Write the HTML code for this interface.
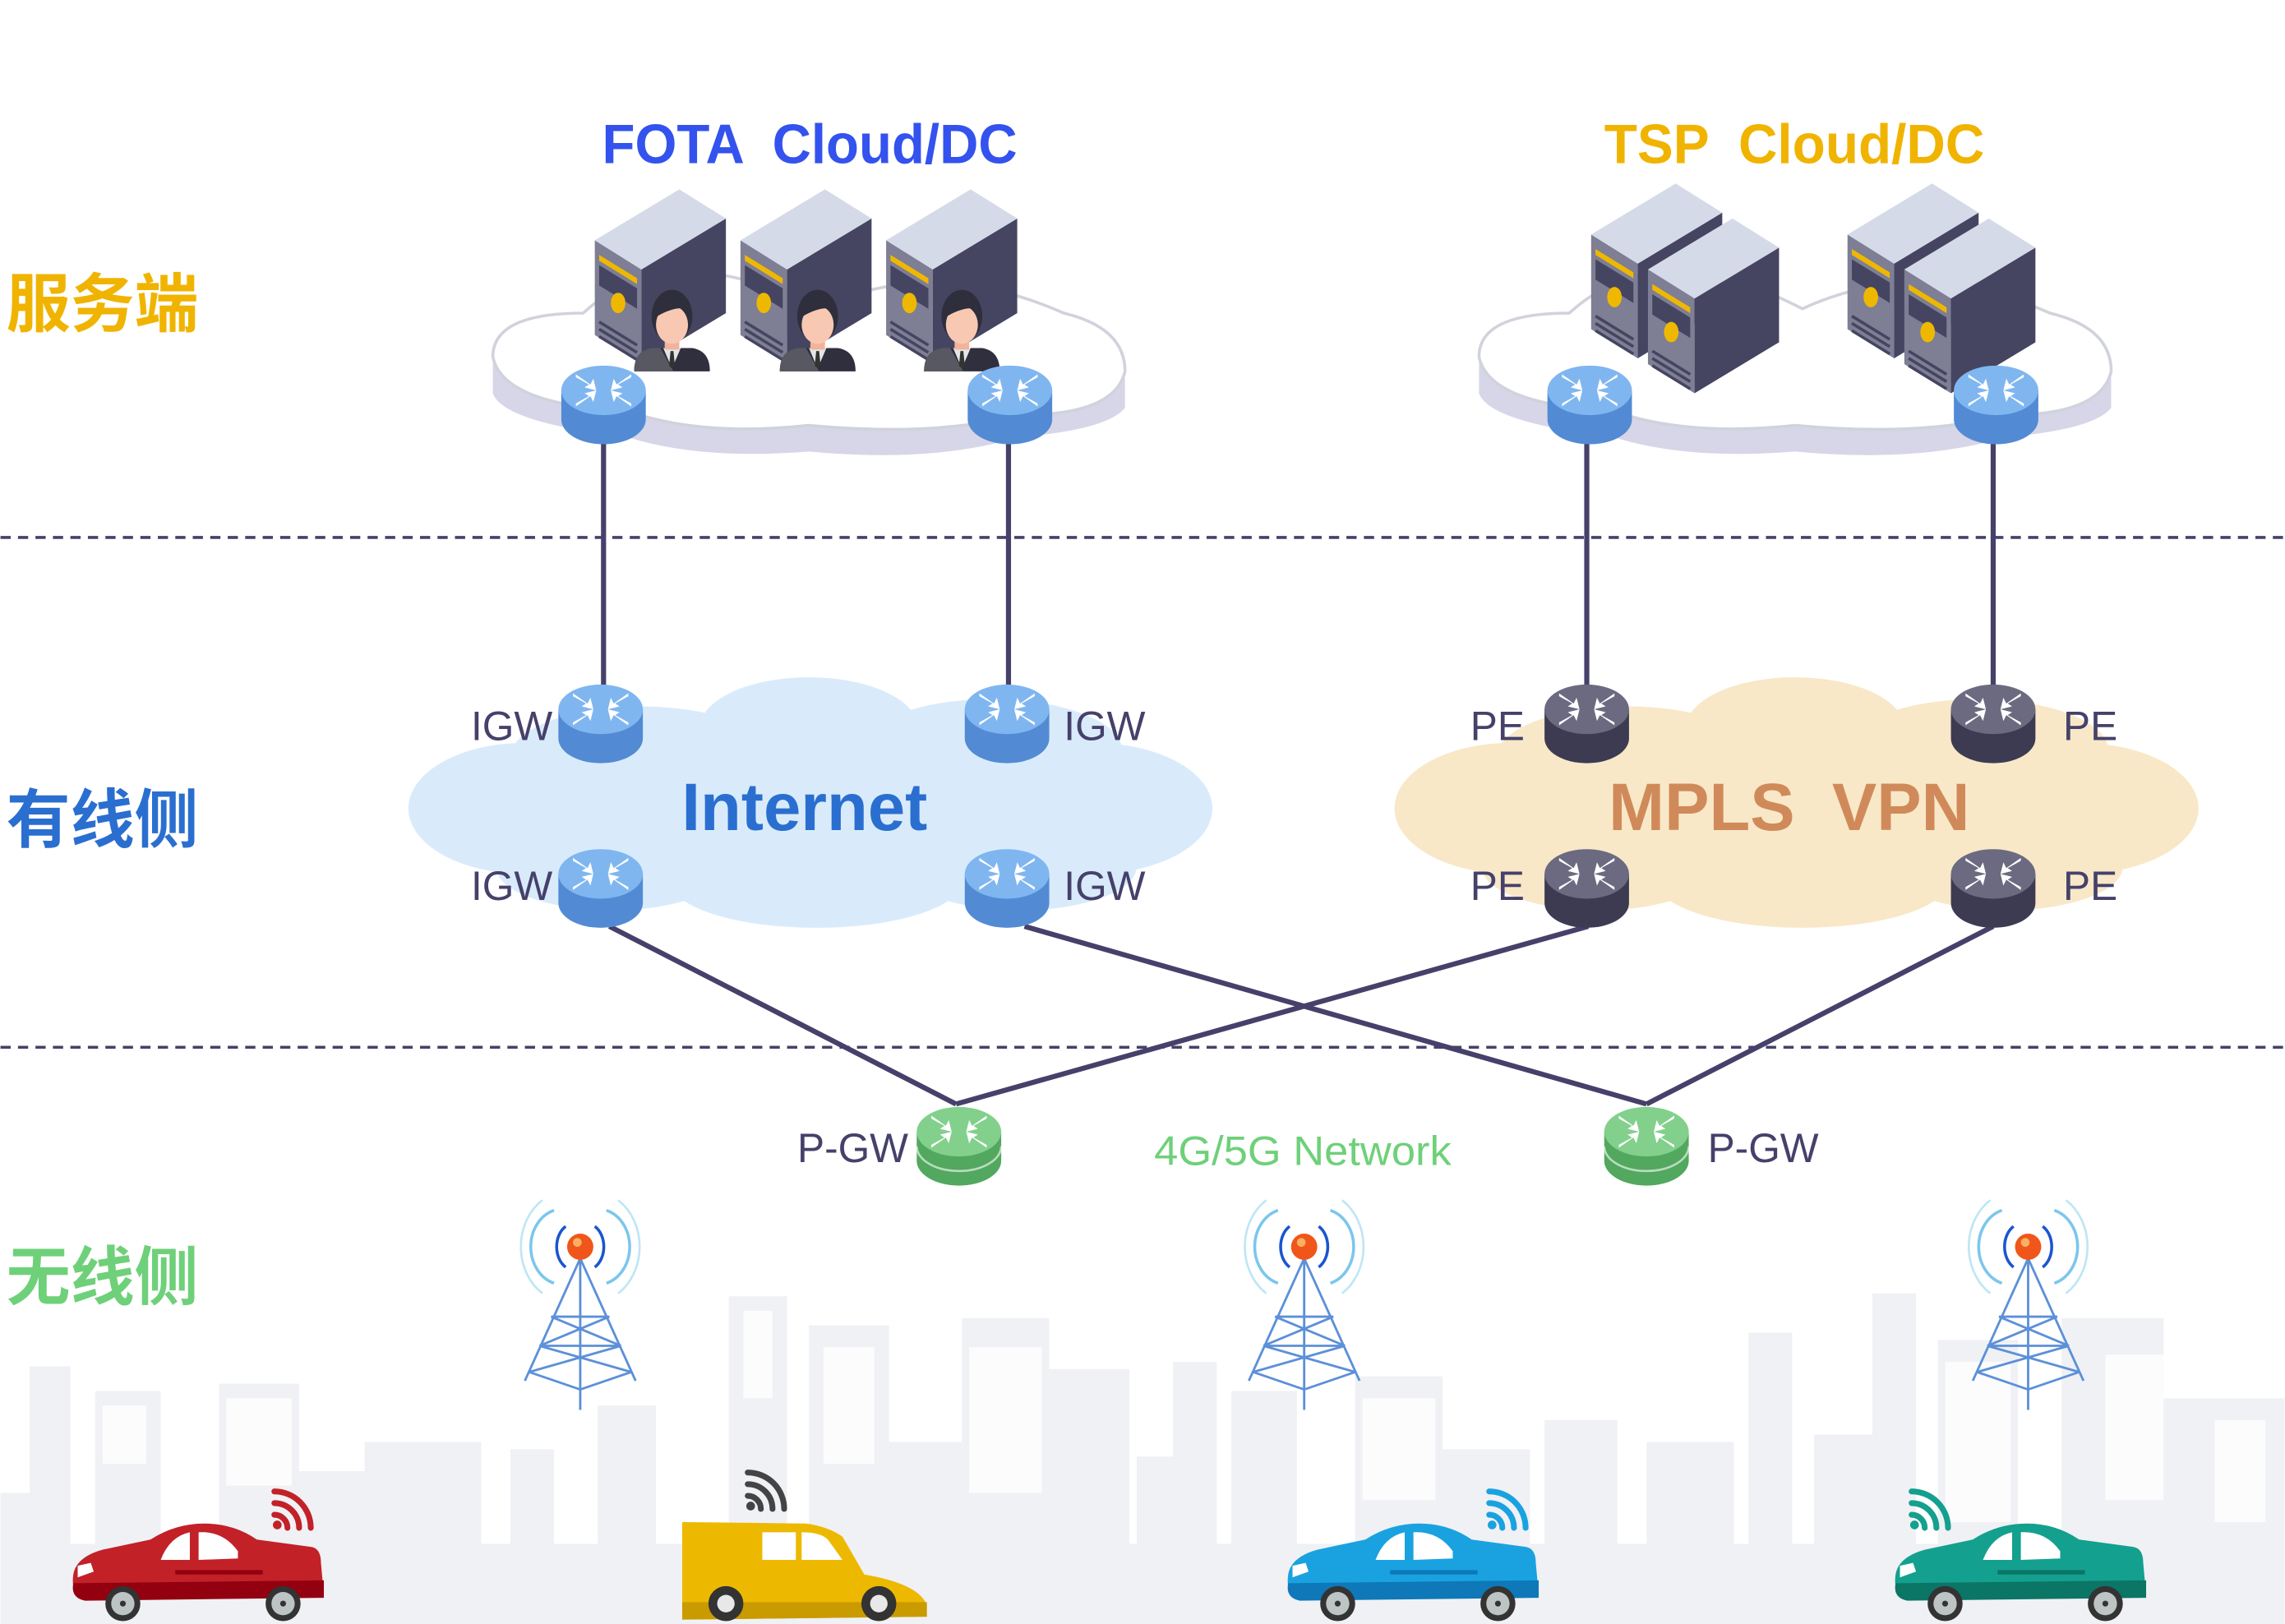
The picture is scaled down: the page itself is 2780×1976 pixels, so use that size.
<!DOCTYPE html>
<html><head><meta charset="utf-8"><style>
html,body{margin:0;padding:0;background:#fff;}
svg{display:block}
text{font-family:"Liberation Sans","Noto Sans CJK SC",sans-serif;}
</style></head><body>
<svg width="2780" height="1976" viewBox="0 0 1568 1115" xmlns="http://www.w3.org/2000/svg">
<defs>
<g id="arrows" fill="#fff">
  <path d="M-19,-11 L-9,-4 L-7,-8 L-5,0 L-13,-2 L-10,-4 L-19,-9Z"/>
  <path d="M19,-11 L9,-4 L7,-8 L5,0 L13,-2 L10,-4 L19,-9Z"/>
  <path d="M-19,11 L-9,4 L-7,8 L-5,0 L-13,2 L-10,4 L-19,9Z"/>
  <path d="M19,11 L9,4 L7,8 L5,0 L13,2 L10,4 L19,9Z"/>
</g>
<g id="rb"><path d="M-29,0 V20 A29,17 0 0 0 29,20 V0Z" fill="#528bd4"/><ellipse rx="29" ry="17" fill="#80b6f0"/><use href="#arrows"/></g>
<g id="rd"><path d="M-29,0 V20 A29,17 0 0 0 29,20 V0Z" fill="#3c3b52"/><ellipse rx="29" ry="17" fill="#6b6a80"/><use href="#arrows"/></g>
<g id="rg"><path d="M-29,0 V20 A29,17 0 0 0 29,20 V0Z" fill="#52a85e"/><ellipse rx="29" ry="17" fill="#82d08c"/><use href="#arrows"/><path d="M-29,10 A29,17 0 0 0 29,10" fill="none" stroke="#fff" stroke-width="1.5" opacity=".6"/></g>
<g id="srv">
  <path d="M0,37 L32,57 L32,122 L0,102Z" fill="#7e7e94"/>
  <path d="M32,57 L90,22 L90,87 L32,122Z" fill="#454562"/>
  <path d="M0,37 L58,2 L90,22 L32,57Z" fill="#d5dae8"/>
  <path d="M3,47 L29,63 L29,67 L3,51Z" fill="#efb800"/>
  <path d="M3,54 L29,70 L29,84 L3,68Z" fill="#454562"/>
  <ellipse cx="16" cy="80" rx="5" ry="7" fill="#efb800"/>
  <path d="M3,93 L29,109 M3,98 L29,114 M3,103 L29,119" stroke="#454562" stroke-width="2"/>
</g>
<g id="person">
  <path d="M0,62 Q0,48 12,46 L40,46 Q52,48 52,62Z" fill="#2f2f3d"/>
  <path d="M0,62 Q0,48 12,46 L18,46 L27,62Z" fill="#585862"/>
  <path d="M20,46 L26,60 L32,46Z" fill="#e5e5e5"/>
  <path d="M25,48 L27,48 L28,58 L26,60 L24,58Z" fill="#333"/>
  <rect x="21" y="36" width="10" height="11" fill="#f2b39c"/>
  <ellipse cx="26" cy="24" rx="14" ry="18" fill="#2e2e3c"/>
  <ellipse cx="26" cy="30" rx="11" ry="13" fill="#f8c8b2"/>
  <path d="M14,20 Q26,8 38,20 Q30,16 16,24Z" fill="#2e2e3c"/>
</g>
<g id="tower" fill="none">
  <path d="M-18,-25 A22,26 0 0 0 -18,25 M18,-25 A22,26 0 0 1 18,25" stroke="#5ab8e8" stroke-width="2" opacity=".8"/>
  <path d="M-10,-14 A12,16 0 0 0 -10,14 M10,-14 A12,16 0 0 1 10,14" stroke="#1a55d0" stroke-width="2"/>
  <path d="M-26,-32 A32,38 0 0 0 -26,32 M26,-32 A32,38 0 0 1 26,32" stroke="#bfe6f5" stroke-width="1.5"/>
  <path d="M0,8 L-38,92 M0,8 L38,92 M0,8 V112 M-20,48 L20,48 M-28,68 L28,68 M-35,86 L0,98 L35,86 M-20,48 L28,68 M20,48 L-28,68 M-28,68 L35,86 M28,68 L-35,86" stroke="#5c90d8" stroke-width="1.6"/>
  <circle cx="0" cy="0" r="9" fill="#f0561a"/><circle cx="-2" cy="-3" r="3" fill="#f9b060"/>
</g>
<g id="car">
  <path d="M2,36 Q4,24 22,19 L55,12 Q72,1 92,1 Q112,1 128,12 L165,17 Q172,18 172,28 L174,50 L10,52 Q0,50 2,36Z" fill="var(--c)"/>
  <path d="M2,42 L174,40 L174,52 L10,54 Q0,52 2,42Z" fill="var(--d)"/>
  <path d="M62,26 Q68,10 82,7 L82,26Z M88,7 Q105,6 115,20 L115,25 L88,26Z" fill="#fff"/>
  <rect x="72" y="33" width="60" height="3" fill="var(--d)"/>
  <path d="M5,30 L14,28 L16,34 L5,38Z" fill="#fff"/>
  <circle cx="36" cy="56" r="12" fill="#333"/><circle cx="36" cy="56" r="8" fill="#bcc4c4"/><circle cx="36" cy="56" r="2" fill="#333"/>
  <circle cx="146" cy="56" r="12" fill="#333"/><circle cx="146" cy="56" r="8" fill="#bcc4c4"/><circle cx="146" cy="56" r="2" fill="#333"/>
</g>
<g id="wifi">
  <g fill="none" stroke="var(--w)" stroke-width="4" stroke-linecap="round">
    <path d="M2,22 A9,9 0 0 1 11,31 M2,14 A17,17 0 0 1 19,31 M2,6 A25,25 0 0 1 27,31"/>
  </g>
  <circle cx="4" cy="29" r="3" fill="var(--w)"/>
</g>
</defs>

<!-- skyline -->
<g fill="#f0f1f5">
  <rect x="20" y="938" width="28" height="177"/><rect x="65" y="955" width="45" height="160"/><rect x="150" y="950" width="55" height="165"/>
  <rect x="0" y="1025" width="40" height="90"/><rect x="200" y="1010" width="50" height="105"/><rect x="250" y="990" width="80" height="125"/>
  <rect x="350" y="995" width="30" height="120"/><rect x="410" y="965" width="40" height="150"/><rect x="500" y="890" width="40" height="225"/>
  <rect x="555" y="910" width="55" height="205"/><rect x="600" y="990" width="60" height="125"/><rect x="660" y="905" width="60" height="210"/>
  <rect x="720" y="940" width="55" height="175"/><rect x="780" y="1000" width="40" height="115"/><rect x="805" y="935" width="30" height="180"/>
  <rect x="845" y="955" width="45" height="160"/><rect x="930" y="945" width="60" height="170"/><rect x="990" y="995" width="60" height="120"/>
  <rect x="1060" y="975" width="50" height="140"/><rect x="1130" y="990" width="60" height="125"/><rect x="1200" y="915" width="30" height="200"/>
  <rect x="1245" y="985" width="40" height="130"/><rect x="1285" y="888" width="30" height="227"/><rect x="1330" y="920" width="55" height="195"/>
  <rect x="1415" y="905" width="70" height="210"/><rect x="1485" y="960" width="83" height="155"/>
  <rect x="0" y="1060" width="1568" height="55"/>
</g>
<g fill="#fff" opacity=".8">
  <rect x="70" y="965" width="30" height="40"/><rect x="155" y="960" width="45" height="60"/><rect x="510" y="900" width="20" height="60"/>
  <rect x="565" y="925" width="35" height="80"/><rect x="665" y="925" width="50" height="100"/><rect x="935" y="960" width="50" height="70"/>
  <rect x="1335" y="935" width="45" height="110"/><rect x="1445" y="930" width="40" height="100"/><rect x="1520" y="975" width="35" height="70"/>
</g>

<!-- dashed separators -->
<g stroke="#45416a" stroke-width="2" stroke-dasharray="7,5">
  <line x1="0" y1="369" x2="1568" y2="369"/><line x1="0" y1="719" x2="1568" y2="719"/>
</g>

<!-- top clouds -->
<g>
  <path d="M338,250 Q338,218 400,218 Q460,160 560,215 Q640,180 730,220 Q772,228 772,262 L772,280 Q760,295 700,300 Q640,318 555,310 Q480,316 430,300 Q345,290 338,270Z" fill="#d6d6e8"/>
  <path d="M338,245 Q338,215 400,215 Q460,160 560,212 Q640,175 730,215 Q772,225 772,255 Q765,285 700,285 Q640,300 555,292 Q480,300 430,282 Q345,278 338,245Z" fill="#fff" stroke="#d0d2dc" stroke-width="2"/>
  <path d="M1015,250 Q1015,218 1077,218 Q1137,160 1237,215 Q1317,180 1407,220 Q1449,228 1449,262 L1449,280 Q1437,295 1377,300 Q1317,318 1232,310 Q1157,316 1107,300 Q1022,290 1015,270Z" fill="#d6d6e8"/>
  <path d="M1015,245 Q1015,215 1077,215 Q1137,160 1237,212 Q1317,175 1407,215 Q1449,225 1449,255 Q1442,285 1377,285 Q1317,300 1232,292 Q1157,300 1107,282 Q1022,278 1015,245Z" fill="#fff" stroke="#d0d2dc" stroke-width="2"/>
</g>
<!-- servers -->
<use href="#srv" x="408" y="128"/><use href="#srv" x="508" y="128"/><use href="#srv" x="608" y="128"/>
<use href="#person" x="435" y="193"/><use href="#person" x="535" y="193"/><use href="#person" x="634" y="193"/>
<use href="#srv" x="1092" y="124"/><use href="#srv" x="1131" y="148"/>
<use href="#srv" x="1268" y="124"/><use href="#srv" x="1307" y="148"/>

<!-- middle clouds -->
<g fill="#d9ebfb">
  <ellipse cx="555" cy="560" rx="270" ry="55"/><ellipse cx="360" cy="555" rx="80" ry="45"/><ellipse cx="750" cy="555" rx="82" ry="45"/>
  <ellipse cx="555" cy="500" rx="75" ry="35"/><ellipse cx="440" cy="520" rx="90" ry="35"/><ellipse cx="680" cy="515" rx="90" ry="35"/>
  <ellipse cx="560" cy="605" rx="100" ry="32"/><ellipse cx="420" cy="595" rx="80" ry="30"/><ellipse cx="700" cy="595" rx="80" ry="30"/>
</g>
<g fill="#f8e8c8">
  <ellipse cx="1232" cy="560" rx="270" ry="55"/><ellipse cx="1037" cy="555" rx="80" ry="45"/><ellipse cx="1427" cy="555" rx="82" ry="45"/>
  <ellipse cx="1232" cy="500" rx="75" ry="35"/><ellipse cx="1117" cy="520" rx="90" ry="35"/><ellipse cx="1357" cy="515" rx="90" ry="35"/>
  <ellipse cx="1237" cy="605" rx="100" ry="32"/><ellipse cx="1097" cy="595" rx="80" ry="30"/><ellipse cx="1377" cy="595" rx="80" ry="30"/>
</g>

<!-- connectors -->
<g stroke="#45416a" stroke-width="3.5" fill="none">
  <line x1="414" y1="300" x2="414" y2="475"/><line x1="692" y1="300" x2="692" y2="475"/>
  <line x1="1089" y1="300" x2="1089" y2="475"/><line x1="1368" y1="300" x2="1368" y2="475"/>
  <line x1="418" y1="636" x2="656" y2="758"/><line x1="703" y1="636" x2="1130" y2="758"/>
  <line x1="1090" y1="636" x2="656" y2="758"/><line x1="1368" y1="636" x2="1130" y2="758"/>
</g>

<!-- routers -->
<use href="#rb" x="414" y="268"/><use href="#rb" x="693" y="268"/><use href="#rb" x="1091" y="268"/><use href="#rb" x="1370" y="268"/>
<use href="#rb" x="412" y="487"/><use href="#rb" x="691" y="487"/><use href="#rb" x="412" y="600"/><use href="#rb" x="691" y="600"/>
<use href="#rd" x="1089" y="487"/><use href="#rd" x="1368" y="487"/><use href="#rd" x="1089" y="600"/><use href="#rd" x="1368" y="600"/>
<use href="#rg" x="658" y="777"/><use href="#rg" x="1130" y="777"/>

<!-- towers -->
<use href="#tower" x="398" y="856"/><use href="#tower" x="895" y="856"/><use href="#tower" x="1392" y="856"/>

<!-- cars -->
<use href="#car" x="48" y="1045" style="--c:#c22128;--d:#93000f"/>
<g transform="translate(468,1045)">
  <path d="M0,0 L85,1 Q100,3 110,10 L125,36 Q160,42 167,55 L168,65 L0,67Z" fill="#edb900"/>
  <path d="M0,55 L168,55 L168,65 L0,67Z" fill="#c99b00"/>
  <path d="M55,7 L78,7 L78,26 L55,26Z M82,7 Q95,7 100,12 L110,26 L82,26Z" fill="#fff"/>
  <circle cx="30" cy="56" r="12" fill="#333"/><circle cx="30" cy="56" r="6" fill="#e8e8e8"/>
  <circle cx="135" cy="56" r="12" fill="#333"/><circle cx="135" cy="56" r="6" fill="#e8e8e8"/>
</g>
<use href="#car" x="882" y="1045" style="--c:#1aa2e0;--d:#0e78b8"/>
<use href="#car" x="1299" y="1045" style="--c:#14a08e;--d:#0b7566"/>
<use href="#wifi" x="186" y="1018" style="--w:#c22128"/>
<use href="#wifi" x="511" y="1005" style="--w:#444"/>
<use href="#wifi" x="1020" y="1018" style="--w:#1aa2e0"/>
<use href="#wifi" x="1310" y="1018" style="--w:#14a08e"/>

<!-- text -->
<text x="413" y="112" font-size="38" font-weight="bold" fill="#3352ee" xml:space="preserve" textLength="285" lengthAdjust="spacingAndGlyphs">FOTA  Cloud/DC</text>
<text x="1101" y="112" font-size="38" font-weight="bold" fill="#f0b400" xml:space="preserve" textLength="261" lengthAdjust="spacingAndGlyphs">TSP  Cloud/DC</text>
<text x="4" y="224" font-size="44" font-weight="bold" fill="#f0b400">服务端</text>
<text x="4" y="578" font-size="44" font-weight="bold" fill="#2a6fd0">有线侧</text>
<text x="4" y="892" font-size="44" font-weight="bold" fill="#6fd07a">无线侧</text>
<text x="552" y="570" font-size="46" font-weight="bold" fill="#2a6fd0" text-anchor="middle">Internet</text>
<text x="1228" y="570" font-size="46" font-weight="bold" fill="#d08a5a" text-anchor="middle" xml:space="preserve">MPLS  VPN</text>
<g font-size="28" fill="#45416a">
  <text x="323" y="508">IGW</text><text x="730" y="508">IGW</text><text x="323" y="618">IGW</text><text x="730" y="618">IGW</text>
  <text x="1009" y="508">PE</text><text x="1416" y="508">PE</text><text x="1009" y="618">PE</text><text x="1416" y="618">PE</text>
  <text x="547" y="798">P-GW</text><text x="1172" y="798">P-GW</text>
</g>
<text x="792" y="800" font-size="28" fill="#6fd07a" textLength="204" lengthAdjust="spacingAndGlyphs">4G/5G Network</text>
</svg>
</body></html>
